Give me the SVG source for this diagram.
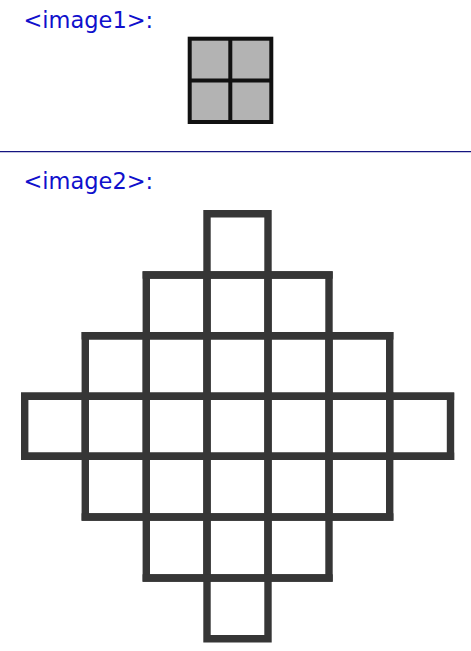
<svg xmlns="http://www.w3.org/2000/svg" width="471" height="651" viewBox="0 0 471 651">
<style>
.lbl{font-family:"DejaVu Sans",sans-serif;font-size:22.5px;fill:#1010cc}
.g1{fill:#b3b3b3;stroke:#111;stroke-width:4}
.g1l{stroke:#111;stroke-width:4;fill:none}
.g2{fill:none;stroke:#363636;stroke-width:7.4;stroke-linecap:square}
</style>
<rect width="471" height="651" fill="#fff"/>
<g id="label1"><text class="lbl" x="23.5" y="28.3">&lt;image1&gt;:</text></g>
<g id="image1">
<rect class="g1" x="189.7" y="38.7" width="81.6" height="83.3"/>
<line class="g1l" x1="230.3" y1="38.7" x2="230.3" y2="122"/>
<line class="g1l" x1="189.7" y1="80.5" x2="271.3" y2="80.5"/>
</g>
<g id="separator"><line x1="0" y1="151.7" x2="471" y2="151.7" stroke="#141480" stroke-width="1.2"/></g>
<g id="label2"><text class="lbl" x="23.5" y="188.5">&lt;image2&gt;:</text></g>
<g id="image2" class="g2">
<path d="M207,213.7H268V638.7H207Z"/>
<path d="M146.3,275H329V578H146.3Z"/>
<path d="M85.3,335.7H389.7V517H85.3Z"/>
<path d="M24.7,396.3H450.5V456.3H24.7Z"/>
<path d="M207,275V578M268,275V578"/>
<path d="M146.3,335.7V517M329,335.7V517"/>
<path d="M85.3,396.3V456.3M389.7,396.3V456.3"/>
<path d="M146.3,275H329M146.3,578H329"/>
<path d="M85.3,335.7H389.7M85.3,517H389.7"/>
<path d="M24.7,396.3H450.5M24.7,456.3H450.5"/>
</g>
</svg>
